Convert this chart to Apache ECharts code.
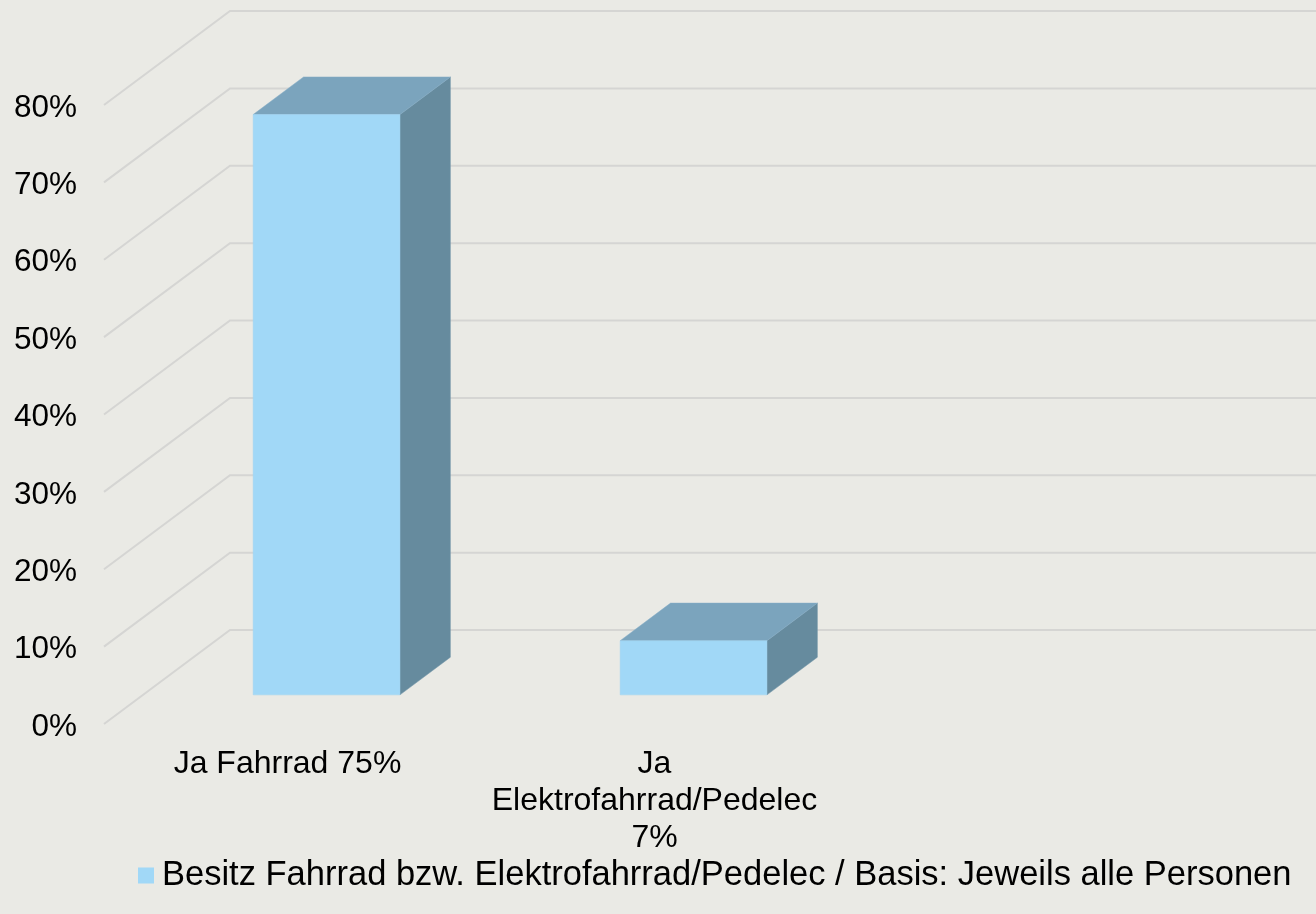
<!DOCTYPE html>
<html><head><meta charset="utf-8">
<script src="https://cdn.jsdelivr.net/npm/echarts@6/dist/echarts.min.js"></script>
<style>html,body{margin:0;padding:0;background:#EAEAE5}#c{width:1316px;height:914px}</style>
</head><body><div id="c"></div>
<script>
const categories = ['Ja Fahrrad 75%', 'Ja\nElektrofahrrad/Pedelec\n7%'];
const values = [75, 7];
const seriesName = 'Besitz Fahrrad bzw. Elektrofahrrad/Pedelec / Basis: Jeweils alle Personen';
const yTicks = [0, 10, 20, 30, 40, 50, 60, 70, 80];

const DX = -126, DY = 94;           // floor depth: front edge relative to back wall
const F_FRONT = 0.69, F_BACK = 0.29; // bar depth position (fraction of floor depth)
const BAR_W = 0.4;
const FONT = "'Liberation Sans', Arial, sans-serif";
const GRID_COLOR = '#D5D5D3';

const chart = echarts.init(document.getElementById('c'));
chart.setOption({
  backgroundColor: '#EAEAE5',
  animation: false,
  textStyle: { fontFamily: FONT },
  grid: [
    { left: 230, top: 11, width: 734, height: 619 },
    { left: 104, top: 108, width: 734, height: 619 }
  ],
  xAxis: [
    { type: 'category', data: categories, gridIndex: 0, show: false },
    { type: 'category', data: categories, gridIndex: 1,
      axisLine: { show: false }, axisTick: { show: false }, splitLine: { show: false },
      axisLabel: { interval: 0, fontSize: 32, color: '#000', margin: 19, lineHeight: 37, fontFamily: FONT } }
  ],
  yAxis: [
    { type: 'value', gridIndex: 0, min: 0, max: 80, interval: 10,
      axisLine: { show: false }, axisTick: { show: false }, axisLabel: { show: false },
      splitLine: { show: false } },
    { type: 'value', gridIndex: 1, min: 0, max: 80, interval: 10,
      axisLine: { show: false }, axisTick: { show: false }, splitLine: { show: false },
      axisLabel: { formatter: '{value}%', fontSize: 31.5, color: '#000', margin: 27, fontFamily: FONT } }
  ],
  legend: {
    data: [seriesName], left: 133, top: 853, icon: 'rect', itemWidth: 16, itemHeight: 16,
    textStyle: { fontSize: 34.5, color: '#000', fontFamily: FONT, padding: [0, 0, 0, 3] }
  },
  series: [
    {
      type: 'custom', name: 'walls', xAxisIndex: 0, yAxisIndex: 0, silent: true, z: 1,
      data: yTicks.map(v => [0, v]),
      renderItem: function (params, api) {
        const y = api.coord([0, api.value(1)])[1];
        const x0 = params.coordSys.x;
        return { type: 'polyline',
                 shape: { points: [[x0 + DX, y + DY], [x0, y], [api.getWidth() + 5, y]] },
                 style: { stroke: GRID_COLOR, lineWidth: 2, fill: null } };
      }
    },
    {
      type: 'custom', name: seriesName, xAxisIndex: 0, yAxisIndex: 0, z: 5,
      itemStyle: { color: '#A1D8F7' },
      data: values.map((v, i) => [i, v]),
      renderItem: function (params, api) {
        const c = api.coord([api.value(0), api.value(1)]);
        const b = api.coord([api.value(0), 0]);
        const bw = api.size([1, 0])[0] * BAR_W;
        const xl = c[0] - bw / 2, xr = c[0] + bw / 2;
        const P = (x, y, f) => [x + DX * f, y + DY * f];
        return { type: 'group', children: [
          { type: 'polygon', shape: { points: [P(xr, c[1], F_FRONT), P(xr, c[1], F_BACK), P(xr, b[1], F_BACK), P(xr, b[1], F_FRONT)] },
            style: { fill: '#668B9E', stroke: '#6E93A6', lineWidth: 0.5 } },
          { type: 'polygon', shape: { points: [P(xl, c[1], F_FRONT), P(xr, c[1], F_FRONT), P(xr, c[1], F_BACK), P(xl, c[1], F_BACK)] },
            style: { fill: '#7BA4BD', stroke: '#84ADC6', lineWidth: 0.5 } },
          { type: 'polygon', shape: { points: [P(xl, c[1], F_FRONT), P(xr, c[1], F_FRONT), P(xr, b[1], F_FRONT), P(xl, b[1], F_FRONT)] },
            style: { fill: '#A1D8F7', stroke: '#9FD3F0', lineWidth: 0.5 } }
        ] };
      }
    }
  ]
});
</script>
</body></html>
